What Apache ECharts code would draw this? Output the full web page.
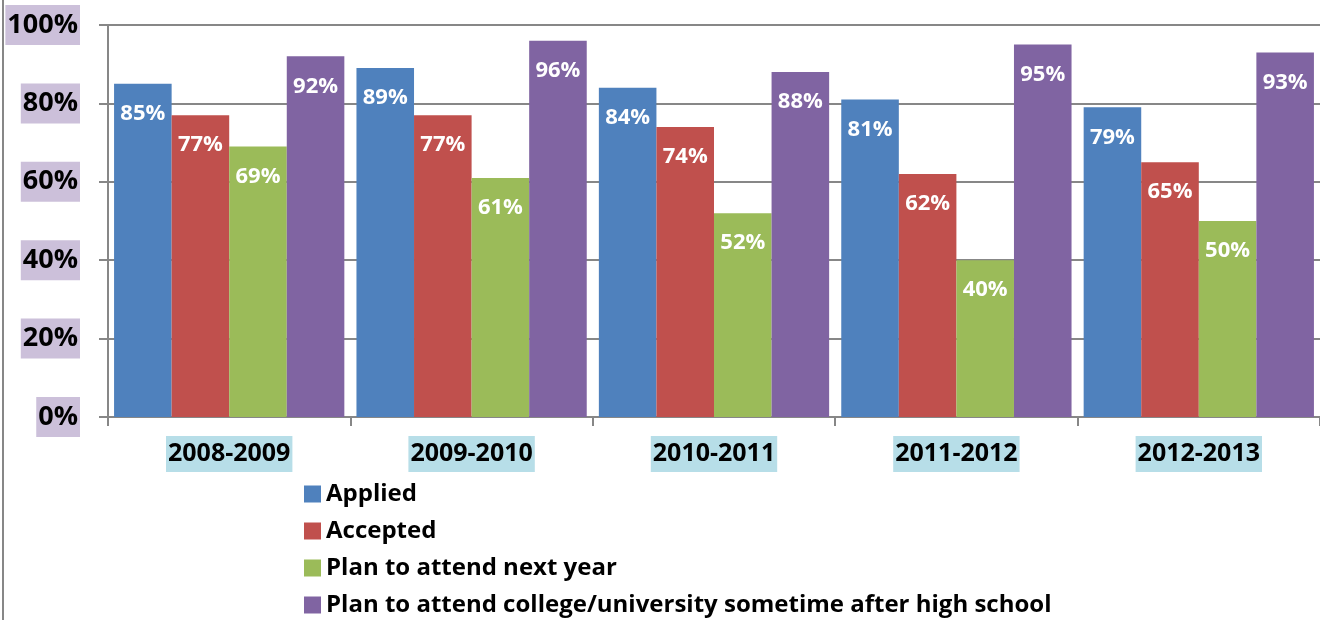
<!DOCTYPE html>
<html>
<head>
<meta charset="utf-8">
<script src="https://cdn.jsdelivr.net/npm/echarts@6/dist/echarts.min.js"></script>
<style>html,body{margin:0;padding:0;background:#fff;}#c{width:1320px;height:620px;}</style>
</head>
<body>
<div id="c"></div>
<script>
const categories = ['2008-2009', '2009-2010', '2010-2011', '2011-2012', '2012-2013'];
const seriesNames = ['Applied', 'Accepted', 'Plan to attend next year', 'Plan to attend college/university sometime after high school'];
const applied = [85, 89, 84, 81, 79];
const accepted = [77, 77, 74, 62, 65];
const planNextYear = [69, 61, 52, 40, 50];
const planSometime = [92, 96, 88, 95, 93];
const yTicks = [0, 20, 40, 60, 80, 100];

const colors = ['#4F81BD', '#C0504D', '#9BBB59', '#8064A2'];
const FONT = '"Open Sans"';
const gray = '#878787';

const chart = echarts.init(document.getElementById('c'), null, {renderer: 'canvas'});
const mk = (name, data, i) => ({
  name, type: 'bar', data,
  barGap: '0%', barCategoryGap: '5%',
  itemStyle: {color: colors[i]},
  label: {
    show: true, position: 'insideTop', distance: 18,
    formatter: '{c}%', color: '#fff', fontFamily: FONT, fontWeight: 'bold', fontSize: 22, lineHeight: 24
  }
});
chart.setOption({
  animation: false,
  textStyle: {fontFamily: FONT},
  grid: {left: 108, right: 0, top: 25, bottom: 203, containLabel: false},
  xAxis: {
    type: 'category', data: categories,
    axisLine: {lineStyle: {color: gray, width: 2}},
    axisTick: {show: true, length: 9, lineStyle: {color: gray, width: 2}},
    axisLabel: {
      margin: 19, color: '#000', fontFamily: FONT, fontWeight: 'bold', fontSize: 25,
      lineHeight: 28, backgroundColor: '#B7DEE8', padding: [4, 2, 4, 2]
    }
  },
  yAxis: {
    type: 'value', min: 0, max: 100, interval: 20,
    axisLine: {show: true, lineStyle: {color: gray, width: 2}},
    axisTick: {show: true, length: 9, lineStyle: {color: gray, width: 2}},
    splitLine: {show: true, lineStyle: {color: gray, width: 2}},
    axisLabel: {
      margin: 28, color: '#000', fontFamily: FONT, fontWeight: 'bold', fontSize: 27,
      lineHeight: 28, backgroundColor: '#CCC0DA', padding: [6, 2, 6, 2],
      formatter: v => yTicks.includes(v) ? v + '%' : ''
    }
  },
  legend: {
    orient: 'vertical', left: 304, top: 482, padding: 0,
    itemWidth: 17, itemHeight: 17, itemGap: 13, icon: 'rect',
    textStyle: {color: '#000', fontFamily: FONT, fontWeight: 'bold', fontSize: 24, lineHeight: 24},
    data: seriesNames
  },
  graphic: [{
    type: 'line', shape: {x1: 3, y1: 0, x2: 3, y2: 620},
    style: {stroke: gray, lineWidth: 2}
  }],
  series: [
    mk(seriesNames[0], applied, 0),
    mk(seriesNames[1], accepted, 1),
    mk(seriesNames[2], planNextYear, 2),
    mk(seriesNames[3], planSometime, 3)
  ]
});
</script>
</body>
</html>
